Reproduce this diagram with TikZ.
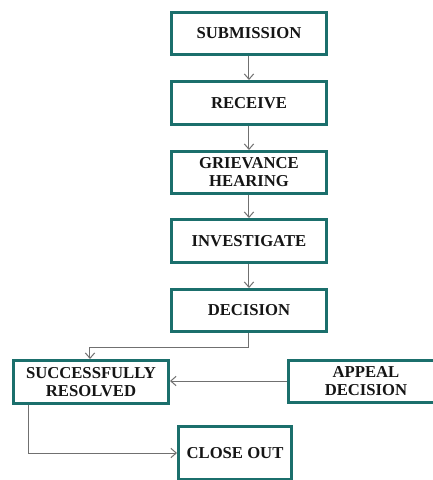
\documentclass[tikz,border=0pt]{standalone}
\usepackage{fontspec}
\setmainfont{Liberation Serif}
\usetikzlibrary{arrows.meta}
\definecolor{boxteal}{HTML}{1B6F6C}
\definecolor{linegray}{HTML}{707070}
\definecolor{txt}{HTML}{151515}
\begin{document}
\begin{tikzpicture}[x=0.75pt,y=-0.75pt,
  stepbox/.style={draw=boxteal,line width=2.25pt,fill=white,
    minimum width=155*0.75pt,minimum height=42*0.75pt,inner sep=0pt,
    align=center,font=\bfseries\fontsize{12.5}{13.5}\selectfont,text=txt},
  conn/.style={draw=linegray,line width=0.75pt,-{Straight Barb[length=4pt,width=7pt]}}]
\path[use as bounding box] (0,0) rectangle (433,480);
\clip (0,0) rectangle (433,480);
\node[stepbox] (sub) at (249,33.5) {SUBMISSION};
\node[stepbox,minimum height=43*0.75pt] (rec) at (249,103) {RECEIVE};
\node[stepbox] (gri) at (249,172.5) {GRIEVANCE\\HEARING};
\node[stepbox,minimum height=43*0.75pt] (inv) at (249,241) {INVESTIGATE};
\node[stepbox] (dec) at (249,310.5) {DECISION};
\node[stepbox,minimum height=43*0.75pt] (sr) at (91,382) {SUCCESSFULLY\\RESOLVED};
\node[stepbox] (ap) at (366,381) {APPEAL\\DECISION};
\node[stepbox,minimum width=113*0.75pt,minimum height=53*0.75pt] (co) at (235,453) {CLOSE OUT};
\coordinate (h1) at (90,347);
\coordinate (v1) at (29,453);
\draw[conn] (sub) -- (rec);
\draw[conn] (rec) -- (gri);
\draw[conn] (gri) -- (inv);
\draw[conn] (inv) -- (dec);
\draw[conn] (dec.south) |- (h1) -- (sr.north -| h1);
\draw[conn] (ap.west) -- (ap.west -| sr.east);
\draw[conn] (sr.south -| v1) |- (co.west);
\end{tikzpicture}
\end{document}
